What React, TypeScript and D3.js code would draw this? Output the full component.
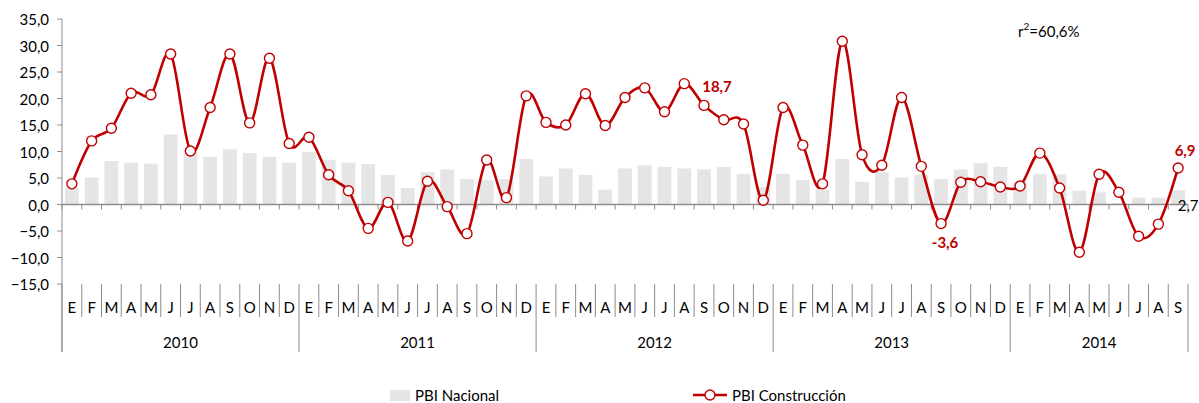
import React from "react";
import * as d3 from "d3";

const monthLabels = ["E", "F", "M", "A", "M", "J", "J", "A", "S", "O", "N", "D"];
const years = [2010, 2011, 2012, 2013, 2014];
const monthsPerYear = [12, 12, 12, 12, 9];
const yTicks = [-15, -10, -5, 0, 5, 10, 15, 20, 25, 30, 35];

const pbiConstruccion = [
  3.9, 12.0, 14.4, 21.0, 20.7, 28.4, 10.1, 18.3, 28.4, 15.4, 27.6, 11.5,
  12.7, 5.6, 2.6, -4.5, 0.4, -6.9, 4.4, -0.4, -5.5, 8.4, 1.3, 20.5,
  15.5, 15.0, 20.9, 14.9, 20.2, 22.0, 17.5, 22.8, 18.7, 16.0, 15.2, 0.8,
  18.3, 11.2, 3.9, 30.8, 9.4, 7.4, 20.2, 7.2, -3.6, 4.2, 4.3, 3.3,
  3.5, 9.7, 3.1, -9.0, 5.7, 2.3, -6.0, -3.7, 6.9,
];

const pbiNacional = [
  3.2, 5.1, 8.2, 7.9, 7.7, 13.2, 10.2, 9.0, 10.4, 9.7, 9.0, 7.9,
  9.9, 8.4, 7.9, 7.6, 5.6, 3.1, 6.1, 6.6, 4.8, 4.6, 4.8, 8.6,
  5.3, 6.8, 5.6, 2.8, 6.8, 7.4, 7.1, 6.8, 6.6, 7.1, 5.8, 3.3,
  5.8, 4.6, 2.8, 8.6, 4.3, 6.1, 5.1, 5.6, 4.8, 6.6, 7.8, 7.1,
  4.3, 5.7, 5.7, 2.6, 2.3, 0.3, 1.3, 1.3, 2.7,
];

const constLabels = [
  { i: 32, text: "18,7", dx: 13, dy: -19 },
  { i: 44, text: "-3,6", dx: 4, dy: 18 },
  { i: 56, text: "6,9", dx: 7, dy: -18 },
];
const nacLabels = [{ i: 56, text: "2,7", dx: 10, dy: 15 }];

const FONT = "Lato, 'Open Sans', sans-serif";
const RED = "#c00000";
const AXIS = "#8c8c8c";
const FS = 15;

export default function App() {
  const W = 1199;
  const H = 403;
  const left = 62;
  const right = 1188;
  const n = pbiConstruccion.length;
  const idx = d3.range(n);

  const x = d3.scaleBand<number>().domain(idx).range([left, right]).padding(0);
  const bw = x.bandwidth();
  const cx = (i: number) => (x(i) as number) + bw / 2;
  const y = d3.scaleLinear().domain([-15, 35]).range([284, 19]);
  const y0 = y(0);
  const barW = bw * 0.7;

  const line = d3
    .line<number>()
    .x((_, i) => cx(i))
    .y((d) => y(d))
    .curve(d3.curveCardinal.tension(0));

  const months: { i: number; label: string }[] = [];
  const yearStarts: number[] = [];
  let k = 0;
  years.forEach((yr, yi) => {
    yearStarts.push(k);
    for (let m = 0; m < monthsPerYear[yi]; m++) {
      months.push({ i: k, label: monthLabels[m] });
      k++;
    }
  });
  yearStarts.push(k);

  const boundaryX = (b: number) => (b < n ? (x(b) as number) : right);
  const fmt = (v: number) => d3.format(".1f")(v).replace(".", ",");

  return (
    <svg
      width={W}
      height={H}
      style={{ position: "absolute", left: 0, top: 0, background: "#fff" }}
      fontFamily={FONT}
    >
      {pbiNacional.map((v, i) => (
        <rect
          key={"b" + i}
          x={cx(i) - barW / 2}
          width={barW}
          y={Math.min(y(v), y0)}
          height={Math.abs(y(v) - y0)}
          fill="#e5e5e5"
        />
      ))}

      <line x1={left} x2={left} y1={y(35)} y2={352} stroke={AXIS} strokeWidth={1} />
      {yTicks.map((t) => (
        <g key={"yt" + t}>
          <line x1={left - 5} x2={left} y1={y(t)} y2={y(t)} stroke={AXIS} />
          <text
            x={left - 13}
            y={y(t)}
            textAnchor="end"
            dominantBaseline="central"
            fontSize={FS}
            fill="#000"
          >
            {fmt(t)}
          </text>
        </g>
      ))}

      <line x1={left} x2={right} y1={y0} y2={y0} stroke={AXIS} strokeWidth={1.3} />
      {d3.range(n + 1).map((b) => (
        <line
          key={"zt" + b}
          x1={boundaryX(b)}
          x2={boundaryX(b)}
          y1={y0}
          y2={y0 + 5}
          stroke={AXIS}
        />
      ))}

      {d3.range(n + 1).map((b) => {
        const isYear = yearStarts.includes(b);
        return (
          <line
            key={"mt" + b}
            x1={boundaryX(b)}
            x2={boundaryX(b)}
            y1={284}
            y2={isYear ? 352 : 317}
            stroke={AXIS}
          />
        );
      })}
      {months.map((m) => (
        <text
          key={"ml" + m.i}
          x={cx(m.i)}
          y={307}
          textAnchor="middle"
          dominantBaseline="central"
          fontSize={FS}
          fill="#000"
        >
          {m.label}
        </text>
      ))}
      {years.map((yr, yi) => (
        <text
          key={"yl" + yr}
          x={(boundaryX(yearStarts[yi]) + boundaryX(yearStarts[yi + 1])) / 2}
          y={342}
          textAnchor="middle"
          dominantBaseline="central"
          fontSize={FS}
          fill="#000"
        >
          {yr}
        </text>
      ))}

      <path d={line(pbiConstruccion) || ""} fill="none" stroke={RED} strokeWidth={2.6} />
      {pbiConstruccion.map((v, i) => (
        <circle
          key={"c" + i}
          cx={cx(i)}
          cy={y(v)}
          r={5}
          fill="#fff"
          stroke={RED}
          strokeWidth={1.4}
        />
      ))}

      {constLabels.map((l) => (
        <text
          key={"cl" + l.i}
          x={cx(l.i) + l.dx}
          y={y(pbiConstruccion[l.i]) + l.dy}
          textAnchor="middle"
          dominantBaseline="central"
          fontSize={FS}
          fontWeight="bold"
          fill={RED}
        >
          {l.text}
        </text>
      ))}
      {nacLabels.map((l) => (
        <text
          key={"nl" + l.i}
          x={cx(l.i) + l.dx}
          y={y(pbiNacional[l.i]) + l.dy}
          textAnchor="middle"
          dominantBaseline="central"
          fontSize={FS}
          fill="#000"
        >
          {l.text}
        </text>
      ))}

      <text x={1018} y={31} dominantBaseline="central" fontSize={FS} fill="#000">
        r<tspan dy={-5} fontSize={10}>2</tspan>
        <tspan dy={5}>=60,6%</tspan>
      </text>

      <rect x={390} y={390} width={20} height={11} fill="#e5e5e5" />
      <text x={415} y={395} dominantBaseline="central" fontSize={FS} fill="#000">
        PBI Nacional
      </text>
      <line x1={693} x2={727} y1={395} y2={395} stroke={RED} strokeWidth={2.6} />
      <circle cx={710} cy={395} r={5} fill="#fff" stroke={RED} strokeWidth={1.4} />
      <text x={732} y={395} dominantBaseline="central" fontSize={FS} fill="#000">
        PBI Construcción
      </text>
    </svg>
  );
}
